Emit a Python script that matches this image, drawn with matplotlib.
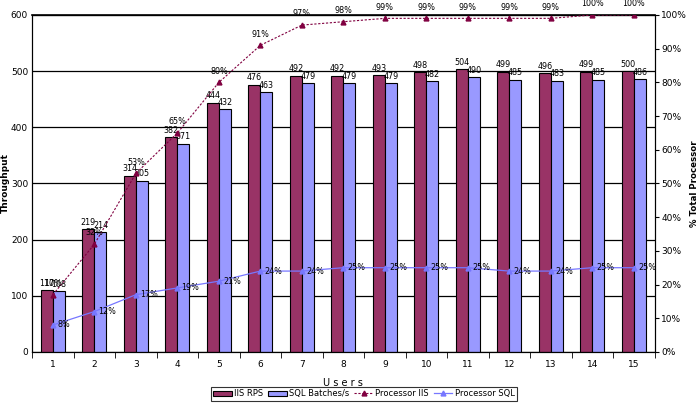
import matplotlib.pyplot as plt
import numpy as np

users = list(range(1, 16))
iis_rps = [110, 219, 314, 382, 444, 476, 492, 492, 493, 498, 504, 499, 496, 499, 500]
sql_batches = [108, 214, 305, 371, 432, 463, 479, 479, 479, 482, 490, 485, 483, 485, 486]
proc_iis = [17, 32, 53, 65, 80, 91, 97, 98, 99, 99, 99, 99, 99, 100, 100]
proc_sql = [8, 12, 17, 19, 21, 24, 24, 25, 25, 25, 25, 24, 24, 25, 25]

plt.rcParams['font.family'] = 'DejaVu Sans'
fig = plt.figure(figsize=(7, 4.05), dpi=100)
ax = fig.add_axes([0.046, 0.131, 0.889, 0.832])
ax2 = ax.twinx()

x = np.arange(len(users))
w = 0.29
ax.bar(x - w / 2, iis_rps, w, color='#993366', edgecolor='black', linewidth=0.8, label='IIS RPS', zorder=2)
ax.bar(x + w / 2, sql_batches, w, color='#9999ff', edgecolor='black', linewidth=0.8, label='SQL Batches/s', zorder=2)
for i in range(len(users)):
    ax.text(x[i] - w / 2, iis_rps[i] + 4, str(iis_rps[i]), ha='center', va='bottom', fontsize=5.8)
    ax.text(x[i] + w / 2, sql_batches[i] + 4, str(sql_batches[i]), ha='center', va='bottom', fontsize=5.8)

ax.set_ylim(0, 600)
ax.set_yticks(range(0, 601, 100))
ax.set_xlim(-0.5, len(users) - 0.5)
ax.set_xticks(x)
ax.set_xticklabels(users)
ax.set_xticks(np.arange(-0.5, len(users), 1), minor=True)
ax.tick_params(axis='x', which='major', length=0, labelsize=6.5, pad=6)
ax.tick_params(axis='x', which='minor', length=4, direction='out')
ax.tick_params(axis='y', labelsize=6.5, length=0, pad=3)
ax.grid(axis='y', color='black', linewidth=0.9, zorder=0)
ax.set_axisbelow(True)
ax.spines['top'].set_linewidth(1.2)
ax.set_ylabel('Throughput', fontsize=6.5, fontweight='bold', labelpad=1)
ax.set_xlabel('U s e r s', fontsize=7, labelpad=6)

ax2.plot(x, proc_iis, color='#800040', linestyle=(0, (2, 1.5)), linewidth=0.8,
         marker='^', markersize=3.5, label='Processor IIS', zorder=3)
ax2.plot(x, proc_sql, color='#7777ff', linewidth=0.9,
         marker='^', markersize=3.5, label='Processor SQL', zorder=3)
for i in range(len(users)):
    ax2.text(x[i], proc_iis[i] + 2, f'{proc_iis[i]}%', ha='center', va='bottom', fontsize=5.8)
    ax2.text(x[i] + 0.1, proc_sql[i], f'{proc_sql[i]}%', ha='left', va='center', fontsize=5.8)
ax2.set_ylim(0, 100)
ax2.set_yticks(range(0, 101, 10))
ax2.set_yticklabels([f'{v}%' for v in range(0, 101, 10)])
ax2.tick_params(axis='y', labelsize=6.5, length=3, pad=2)
ax2.set_ylabel('% Total Processor', fontsize=6.2, fontweight='bold', labelpad=2)

h1, l1 = ax.get_legend_handles_labels()
h2, l2 = ax2.get_legend_handles_labels()
leg = fig.legend(h1 + h2, l1 + l2, loc='lower center', bbox_to_anchor=(0.52, 0.0), ncol=4,
                 fontsize=6, frameon=True, fancybox=False, edgecolor='black',
                 handlelength=2.2, columnspacing=0.6, handletextpad=0.3, borderpad=0.3)
leg.get_frame().set_linewidth(0.8)

fig.savefig('out.png', dpi=100)
